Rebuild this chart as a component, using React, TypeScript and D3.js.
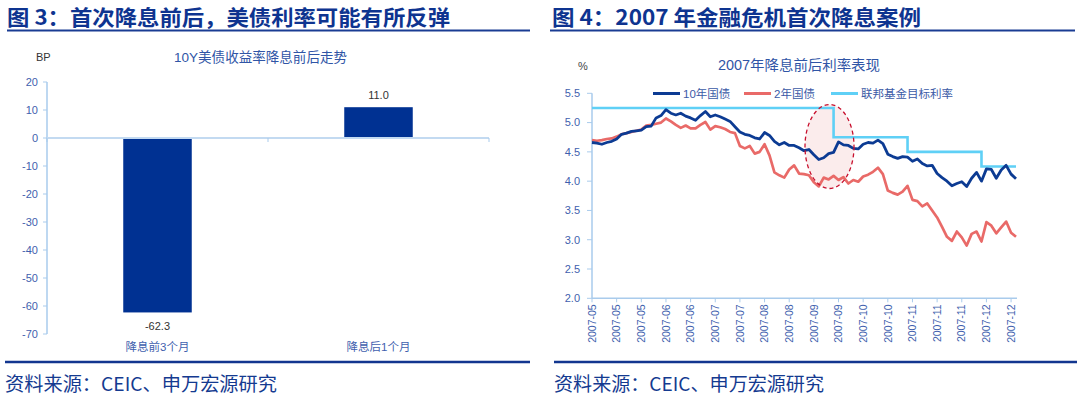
import * as d3 from 'd3';

// ---- left panel: 10Y UST move around first cut
const barCategories = ['降息前3个月', '降息后1个月'];
const barValues = [-62.3, 11.0];
const barTicks = [20, 10, 0, -10, -20, -30, -40, -50, -60, -70];

// ---- right panel: 2007 rates, one point every ~2 trading days
const dateLabels = [
  '2007-05', '2007-05', '2007-05', '2007-06', '2007-06', '2007-07',
  '2007-07', '2007-08', '2007-08', '2007-09', '2007-09', '2007-10',
  '2007-10', '2007-11', '2007-11', '2007-11', '2007-12', '2007-12',
];
const rateTicks = [5.5, 5.0, 4.5, 4.0, 3.5, 3.0, 2.5, 2.0];

const yield10Y = [
  4.66, 4.65, 4.63, 4.66, 4.68, 4.72, 4.8, 4.82, 4.85, 4.86,
  4.87, 4.93, 4.94, 5.08, 5.12, 5.22, 5.16, 5.13, 5.16, 5.11,
  5.08, 5.04, 5.12, 5.19, 5.1, 5.13, 5.1, 5.06, 5.02, 4.93,
  4.84, 4.8, 4.78, 4.74, 4.72, 4.83, 4.78, 4.68, 4.62, 4.66,
  4.61, 4.61, 4.57, 4.52, 4.54, 4.45, 4.37, 4.4, 4.47, 4.49,
  4.67, 4.62, 4.61, 4.56, 4.55, 4.63, 4.66, 4.65, 4.7, 4.64,
  4.46, 4.42, 4.39, 4.42, 4.41, 4.34, 4.38, 4.3, 4.26, 4.27,
  4.13, 4.06, 4.0, 3.92, 3.96, 3.99, 3.91, 4.05, 4.15, 4.0,
  4.21, 4.2, 4.05, 4.19, 4.27, 4.12, 4.04,
];
const yield2Y = [
  4.7, 4.69, 4.7, 4.72, 4.73, 4.76, 4.8, 4.82, 4.84, 4.86,
  4.88, 4.95, 4.96, 4.98, 5.0, 5.07, 5.02, 4.96, 4.91, 4.95,
  4.9, 4.9, 4.96, 5.01, 4.88, 4.94, 4.92, 4.89, 4.84, 4.82,
  4.6, 4.56, 4.6, 4.47, 4.5, 4.63, 4.44, 4.15, 4.1, 4.06,
  4.2, 4.27, 4.13, 4.12, 4.1, 3.98, 3.91, 4.06, 4.03, 4.09,
  4.02, 4.07, 3.96, 4.02, 3.99, 4.08, 4.11, 4.16, 4.23, 4.12,
  3.84, 3.8, 3.77, 3.82, 3.92, 3.68, 3.66, 3.57, 3.62, 3.5,
  3.38, 3.22, 3.05, 2.98, 3.14, 3.04, 2.9, 3.1, 3.14, 2.97,
  3.3, 3.24, 3.11, 3.21, 3.31, 3.12, 3.05,
];
const fedTarget = [
  5.25, 5.25, 5.25, 5.25, 5.25, 5.25, 5.25, 5.25, 5.25, 5.25,
  5.25, 5.25, 5.25, 5.25, 5.25, 5.25, 5.25, 5.25, 5.25, 5.25,
  5.25, 5.25, 5.25, 5.25, 5.25, 5.25, 5.25, 5.25, 5.25, 5.25,
  5.25, 5.25, 5.25, 5.25, 5.25, 5.25, 5.25, 5.25, 5.25, 5.25,
  5.25, 5.25, 5.25, 5.25, 5.25, 5.25, 5.25, 5.25, 5.25, 4.75,
  4.75, 4.75, 4.75, 4.75, 4.75, 4.75, 4.75, 4.75, 4.75, 4.75,
  4.75, 4.75, 4.75, 4.75, 4.5, 4.5, 4.5, 4.5, 4.5, 4.5,
  4.5, 4.5, 4.5, 4.5, 4.5, 4.5, 4.5, 4.5, 4.5, 4.25,
  4.25, 4.25, 4.25, 4.25, 4.25, 4.25, 4.25,
];
const seriesNames = ['10年国债', '2年国债', '联邦基金目标利率'];

const FONT = "'Liberation Sans', 'Noto Sans CJK SC', sans-serif";
const CJK = "'Noto Sans CJK SC', sans-serif";
const NAVY = '#0e3490';
const AXIS = '#a9cbec';
const LABEL = '#3f5fae';

function BarPanel() {
  const y = d3.scaleLinear().domain([-70, 20]).range([334, 82]);
  const x = d3.scaleBand<string>().domain(barCategories).range([47, 489]);
  const bw = x.bandwidth() * 0.31;
  return (
    <g>
      <text x={36} y={61} fontSize={11} fill="#333" fontFamily={FONT}>BP</text>
      <text x={260.5} y={61.5} fontSize={13.5} fill="#3055a6" textAnchor="middle"
        fontFamily={FONT} textLength={173} lengthAdjust="spacingAndGlyphs">10Y美债收益率降息前后走势</text>
      <line x1={47} x2={47} y1={y(20)} y2={y(-70)} stroke={AXIS} strokeWidth={1.5} />
      {barTicks.map((t) => (
        <g key={t}>
          <line x1={43} x2={47} y1={y(t)} y2={y(t)} stroke={AXIS} />
          <text x={38} y={y(t)} dy="0.35em" fontSize={11} fill={LABEL} textAnchor="end" fontFamily={FONT}>
            {t}
          </text>
        </g>
      ))}
      {barCategories.map((c, i) => {
        const cx = (x(c) ?? 0) + x.bandwidth() / 2;
        const v = barValues[i];
        const top = Math.min(y(v), y(0));
        return (
          <g key={c}>
            <rect x={cx - bw / 2} y={top} width={bw} height={Math.abs(y(v) - y(0))} fill="#003192" />
            <text x={cx} y={v < 0 ? y(v) + 14 : y(v) - 8} dy={v < 0 ? '0.35em' : '0'} fontSize={11} fill="#333"
              textAnchor="middle" fontFamily={FONT}>{v.toFixed(1)}</text>
            <text x={cx} y={351} fontSize={11.5} fill={LABEL} textAnchor="middle" fontFamily={FONT}>{c}</text>
          </g>
        );
      })}
      <line x1={47} x2={489} y1={y(0)} y2={y(0)} stroke="#c3daf1" strokeWidth={2} />
      {[47, 268, 489].map((t) => (
        <line key={t} x1={t} x2={t} y1={y(0)} y2={y(0) + 4} stroke={AXIS} />
      ))}
    </g>
  );
}

function RatePanel() {
  const n = yield10Y.length;
  const x = d3.scaleLinear().domain([0, n - 1]).range([592, 1016]);
  const y = d3.scaleLinear().domain([2, 5.5]).range([298.3, 93.3]);
  const line = d3.line<number>().x((_, i) => x(i)).y((d) => y(d));
  const stepLine = d3.line<number>().x((_, i) => x(i)).y((d) => y(d)).curve(d3.curveStepAfter);
  const colors = ['#0c3b93', '#e96a68', '#5fd0f6'];
  const legendX = [653, 744, 831];
  return (
    <g>
      <text x={578} y={70} fontSize={11} fill="#444" fontFamily={FONT}>%</text>
      <text x={799} y={69.5} fontSize={14} fill="#3055a6" textAnchor="middle" fontFamily={FONT}
        textLength={162} lengthAdjust="spacingAndGlyphs">2007年降息前后利率表现</text>
      {seriesNames.map((s, i) => (
        <g key={s}>
          <line x1={legendX[i]} x2={legendX[i] + 27} y1={93.5} y2={93.5} stroke={colors[i]} strokeWidth={3} />
          <text x={legendX[i] + 30} y={93.5} dy="0.35em" fontSize={11.5} fill="#3b5aa6" fontFamily={FONT}>{s}</text>
        </g>
      ))}
      <line x1={592} x2={592} y1={y(5.5)} y2={y(2)} stroke={AXIS} strokeWidth={1.5} />
      {rateTicks.map((t) => (
        <g key={t}>
          <line x1={587} x2={592} y1={y(t)} y2={y(t)} stroke={AXIS} />
          <text x={580} y={y(t)} dy="0.35em" fontSize={11} fill={LABEL} textAnchor="end" fontFamily={FONT}>
            {t.toFixed(1)}
          </text>
        </g>
      ))}
      <line x1={592} x2={1017} y1={y(2)} y2={y(2)} stroke={AXIS} strokeWidth={1.5} />
      {dateLabels.map((d, i) => {
        const tx = x(i * 5);
        return (
          <g key={i}>
            <line x1={tx} x2={tx} y1={y(2)} y2={y(2) + 4} stroke={AXIS} />
            <text transform={`translate(${tx},${y(2) + 6}) rotate(-90)`} dy="0.35em" fontSize={10.5}
              fill={LABEL} textAnchor="end" fontFamily={FONT}>{d}</text>
          </g>
        );
      })}
      <ellipse cx={829.5} cy={146.5} rx={24.5} ry={42} fill="#f7d5d5" fillOpacity={0.45} />
      <path d={stepLine(fedTarget) ?? ''} fill="none" stroke={colors[2]} strokeWidth={2.6} />
      <path d={line(yield2Y) ?? ''} fill="none" stroke={colors[1]} strokeWidth={2.7} strokeLinejoin="round" />
      <path d={line(yield10Y) ?? ''} fill="none" stroke={colors[0]} strokeWidth={2.8} strokeLinejoin="round" />
      <ellipse cx={829.5} cy={146.5} rx={24.5} ry={42} fill="none" stroke="#c8102e" strokeWidth={1.3}
        strokeDasharray="4 3" />
    </g>
  );
}

export default function App() {
  return (
    <div style={{ position: 'absolute', left: 0, top: 0 }}>
      <svg width={1080} height={399} style={{ display: 'block', background: '#fff' }}>
        <text x={7} y={25} fontSize={21} fontWeight="bold" fill={NAVY} fontFamily={CJK}
          textLength={443} lengthAdjust="spacingAndGlyphs">图 3：首次降息前后，美债利率可能有所反弹</text>
        <text x={552} y={25} fontSize={21} fontWeight="bold" fill={NAVY} fontFamily={CJK}
          textLength={369} lengthAdjust="spacingAndGlyphs">图 4：2007 年金融危机首次降息案例</text>
        <line x1={7} x2={530} y1={30.5} y2={30.5} stroke="#1a3c93" strokeWidth={2} />
        <line x1={550} x2={1075} y1={30.5} y2={30.5} stroke="#1a3c93" strokeWidth={2} />
        <BarPanel />
        <RatePanel />
        <line x1={5} x2={530} y1={362} y2={362} stroke="#12368f" strokeWidth={2.5} />
        <line x1={554} x2={1077} y1={362} y2={362} stroke="#12368f" strokeWidth={2.5} />
        <text x={5} y={391} fontSize={19} fill="#143a90" fontFamily={CJK}
          textLength={272} lengthAdjust="spacingAndGlyphs">资料来源：CEIC、申万宏源研究</text>
        <text x={554} y={391} fontSize={19} fill="#143a90" fontFamily={CJK}
          textLength={270} lengthAdjust="spacingAndGlyphs">资料来源：CEIC、申万宏源研究</text>
      </svg>
    </div>
  );
}
